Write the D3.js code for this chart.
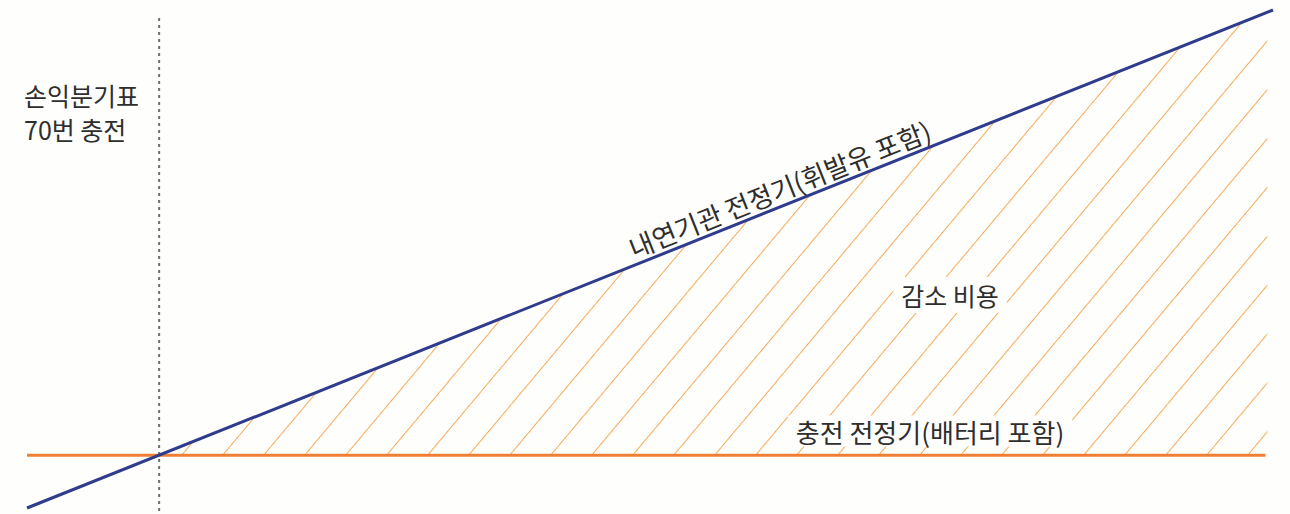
<!DOCTYPE html>
<html>
<head>
<meta charset="utf-8">
<script src="https://cdn.jsdelivr.net/npm/d3@7"></script>
<style>
  body { margin: 0; background: #fefefc; }
  svg text { font-family: "Noto Sans CJK KR", sans-serif; fill: #2e2e2e; }
</style>
</head>
<body>
<div id="chart"></div>
<script>
// 충전 횟수 (x) 와 누적 비용 (y, 임의 단위)
const iceX = [0, 660];            // 내연기관
const iceCost = [0, 100];
const evX = [0, 656];             // 충전 전정기
const evCost = [10.6, 10.6];
const breakEven = 70;             // 손익분기 70번 충전
const savingRange = [70, 657];    // 감소 비용 구간

const labelIce = "내연기관 전정기(휘발유 포함)";
const labelEv = "충전 전정기(배터리 포함)";
const labelSaving = "감소 비용";
const labelBreak = ["손익분기표", "70번 충전"];

var width = 1290, height = 514;
var svg = d3.select("#chart").append("svg").attr("width", width).attr("height", height);

var xScale = d3.scaleLinear().domain([0, 660]).range([27, 1273]);
var yScale = d3.scaleLinear().domain([0, 100]).range([508, 10]);
var iceAt = d3.scaleLinear().domain(iceX).range(iceCost);

var defs = svg.append("defs");

// 사선 패턴
var hatchGap = 41 * Math.sin(50 * Math.PI / 180);
var pattern = defs.append("pattern")
  .attr("id", "hatch")
  .attr("patternUnits", "userSpaceOnUse")
  .attr("width", hatchGap)
  .attr("height", 20)
  .attr("patternTransform", "translate(" + 222 + "," + yScale(evCost[0]) + ") rotate(40)");
pattern.append("line")
  .attr("x1", 0).attr("y1", 0).attr("x2", 0).attr("y2", 20)
  .attr("stroke", "#f7aa55").attr("stroke-width", 2);

// 감소 비용 영역
var areaPts = [
  [savingRange[0], evCost[0]],
  [savingRange[0], iceAt(savingRange[0])],
  [savingRange[1], iceAt(savingRange[1])],
  [savingRange[1], evCost[0]]
];
svg.append("path")
  .attr("d", d3.line().x(d => xScale(d[0])).y(d => yScale(d[1]))(areaPts) + "Z")
  .attr("fill", "url(#hatch)");

// 손익분기 점선
svg.append("line")
  .attr("x1", xScale(breakEven)).attr("x2", xScale(breakEven))
  .attr("y1", 18).attr("y2", height)
  .attr("stroke", "#6e6e6e").attr("stroke-width", 2)
  .attr("stroke-dasharray", "3,4");

// 충전 전정기 선
svg.append("path")
  .attr("d", d3.line().x((d, i) => xScale(evX[i])).y(d => yScale(d))(evCost))
  .attr("stroke", "#ee7f35").attr("stroke-width", 3).attr("fill", "none");

// 내연기관 선
svg.append("path")
  .attr("d", d3.line().x((d, i) => xScale(iceX[i])).y(d => yScale(d))(iceCost))
  .attr("stroke", "#2f3b8c").attr("stroke-width", 3).attr("fill", "none");

// 흰 배경 박스가 있는 라벨
function boxLabel(txt, cx, cy, size, padX, padY) {
  var g = svg.append("g");
  var rect = g.append("rect").attr("fill", "#fefefc");
  var t = g.append("text")
    .attr("x", cx).attr("y", cy)
    .attr("text-anchor", "middle")
    .attr("dominant-baseline", "central")
    .style("font-size", size + "px")
    .text(txt);
  var b = t.node().getBBox();
  rect.attr("x", b.x - padX).attr("y", b.y - padY)
    .attr("width", b.width + padX * 2).attr("height", b.height + padY * 2);
}

boxLabel(labelSaving, 950, 295, 25, 8, 0);
boxLabel(labelEv, 930, 431, 26, 8, -3);

// 내연기관 라벨 (선을 따라 회전)
var angle = Math.atan2(yScale(iceCost[1]) - yScale(iceCost[0]), xScale(iceX[1]) - xScale(iceX[0])) * 180 / Math.PI;
var lx = xScale(402), ly = yScale(iceAt(402));
svg.append("text")
  .attr("transform", "translate(" + lx + "," + ly + ") rotate(" + angle + ")")
  .attr("text-anchor", "middle")
  .attr("dy", -6)
  .style("font-size", "26.5px")
  .text(labelIce);

// 손익분기 라벨
svg.selectAll(".bk")
  .data(labelBreak)
  .enter().append("text")
  .attr("class", "bk")
  .attr("x", 24)
  .attr("y", (d, i) => 106 + i * 34)
  .style("font-size", "25px")
  .text(d => d);
</script>
</body>
</html>
